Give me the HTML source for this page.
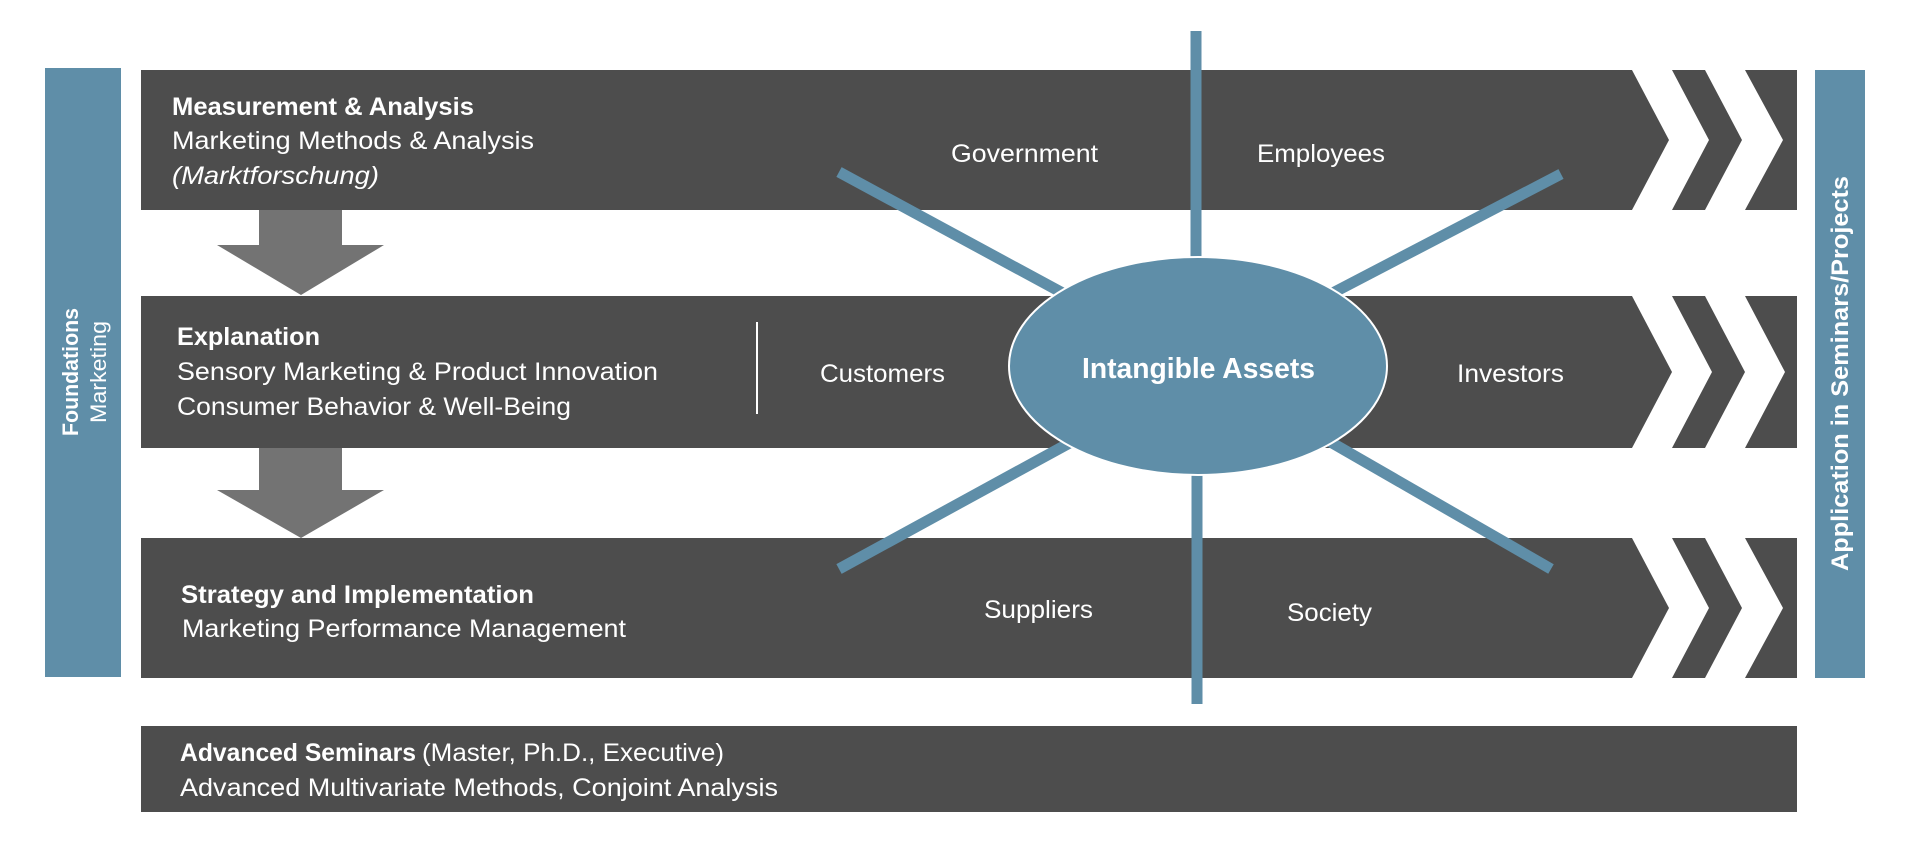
<!DOCTYPE html>
<html><head><meta charset="utf-8"><style>
html,body{margin:0;padding:0;background:#fff;}
svg{display:block;}
text{font-family:"Liberation Sans",sans-serif;fill:#fff;}
</style></head><body>
<svg width="1928" height="847" viewBox="0 0 1928 847" xmlns="http://www.w3.org/2000/svg">
<rect width="1928" height="847" fill="#fff"/>
<!-- side bars -->
<rect x="45" y="68" width="76" height="609" fill="#5f8ea8"/>
<rect x="1815" y="70" width="50" height="608" fill="#5f8ea8"/>
<!-- rows -->
<g fill="#4d4d4d">
<polygon points="141,70 1632,70 1669,140 1632,210 141,210"/>
<polygon points="1672,70 1705,70 1742,140 1705,210 1672,210 1709,140"/>
<polygon points="1745,70 1797,70 1797,210 1745,210 1783,140"/>

<polygon points="141,296 1632,296 1672,372 1632,448 141,448"/>
<polygon points="1672,296 1705,296 1745,372 1705,448 1672,448 1712,372"/>
<polygon points="1745,296 1797,296 1797,448 1745,448 1785,372"/>

<polygon points="141,538 1632,538 1669,608 1632,678 141,678"/>
<polygon points="1672,538 1705,538 1742,608 1705,678 1672,678 1709,608"/>
<polygon points="1745,538 1797,538 1797,678 1745,678 1783,608"/>

<rect x="141" y="726" width="1656" height="86"/>
</g>
<!-- down arrows -->
<g fill="#737373">
<polygon points="259,210 342,210 342,245 384,245 301,295 217,245 259,245"/>
<polygon points="259,448 342,448 342,490 384,490 301,538 217,490 259,490"/>
</g>
<!-- divider -->
<line x1="757" y1="322" x2="757" y2="414" stroke="#fff" stroke-width="2"/>
<!-- spokes -->
<g stroke="#5f8ea8" stroke-width="11">
<line x1="1196" y1="31" x2="1196" y2="260"/>
<line x1="1197" y1="472" x2="1197" y2="704"/>
<line x1="839" y1="172" x2="1070" y2="297"/>
<line x1="1561" y1="174" x2="1325" y2="297"/>
<line x1="839" y1="569" x2="1075" y2="440"/>
<line x1="1327" y1="440" x2="1551" y2="569"/>
</g>
<ellipse cx="1198" cy="366" rx="189" ry="109" fill="#5f8ea8" stroke="#fff" stroke-width="2"/>
<!-- row texts -->
<g font-size="25">
<text x="172" y="115" font-weight="bold" textLength="302" lengthAdjust="spacingAndGlyphs">Measurement &amp; Analysis</text>
<text x="172" y="149" textLength="362" lengthAdjust="spacingAndGlyphs">Marketing Methods &amp; Analysis</text>
<text x="172" y="184" font-style="italic" textLength="207" lengthAdjust="spacingAndGlyphs">(Marktforschung)</text>

<text x="177" y="345" font-weight="bold" textLength="143" lengthAdjust="spacingAndGlyphs">Explanation</text>
<text x="177" y="380" textLength="481" lengthAdjust="spacingAndGlyphs">Sensory Marketing &amp; Product Innovation</text>
<text x="177" y="415" textLength="394" lengthAdjust="spacingAndGlyphs">Consumer Behavior &amp; Well-Being</text>

<text x="181" y="603" font-weight="bold" textLength="353" lengthAdjust="spacingAndGlyphs">Strategy and Implementation</text>
<text x="182" y="637" textLength="444" lengthAdjust="spacingAndGlyphs">Marketing Performance Management</text>

<text x="180" y="761" font-weight="bold" textLength="236" lengthAdjust="spacingAndGlyphs">Advanced Seminars</text>
<text x="422" y="761" textLength="302" lengthAdjust="spacingAndGlyphs">(Master, Ph.D., Executive)</text>
<text x="180" y="796" textLength="598" lengthAdjust="spacingAndGlyphs">Advanced Multivariate Methods, Conjoint Analysis</text>

<text x="820" y="382" textLength="125" lengthAdjust="spacingAndGlyphs">Customers</text>
<text x="951" y="162" textLength="147" lengthAdjust="spacingAndGlyphs">Government</text>
<text x="1257" y="162" textLength="128" lengthAdjust="spacingAndGlyphs">Employees</text>
<text x="1457" y="382" textLength="107" lengthAdjust="spacingAndGlyphs">Investors</text>
<text x="984" y="618" textLength="109" lengthAdjust="spacingAndGlyphs">Suppliers</text>
<text x="1287" y="621" textLength="85" lengthAdjust="spacingAndGlyphs">Society</text>
</g>
<text x="1082" y="378" font-size="29" font-weight="bold" textLength="233" lengthAdjust="spacingAndGlyphs">Intangible Assets</text>
<!-- vertical labels -->
<text transform="translate(78,436) rotate(-90)" font-size="22" font-weight="bold" textLength="128" lengthAdjust="spacingAndGlyphs">Foundations</text>
<text transform="translate(106,423) rotate(-90)" font-size="22" textLength="102" lengthAdjust="spacingAndGlyphs">Marketing</text>
<text transform="translate(1848,571) rotate(-90)" font-size="24" font-weight="bold" textLength="395" lengthAdjust="spacingAndGlyphs">Application in Seminars/Projects</text>
</svg>
</body></html>
